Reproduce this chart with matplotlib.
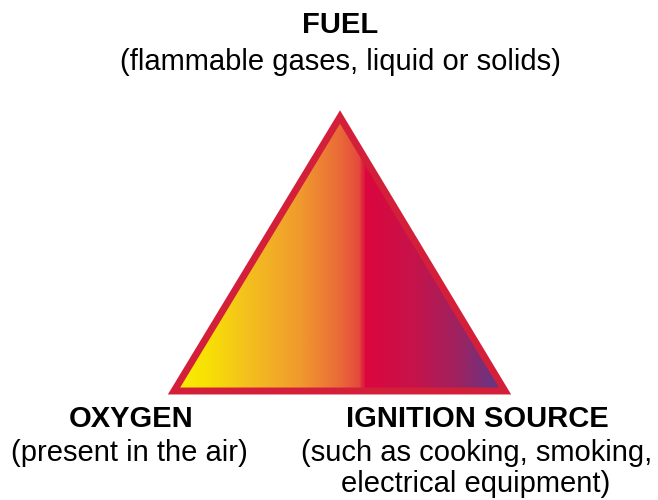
import numpy as np
import matplotlib.pyplot as plt
from matplotlib.colors import LinearSegmentedColormap
from matplotlib.patches import Polygon

# triangle corners (pixels, y down)
tri_x = [340, 505, 174]
tri_y = [117, 391, 391]

# horizontal gradient stops (fraction across triangle base) and colours
grad_pos = [0.0, 0.10, 0.22, 0.38, 0.50, 0.56, 0.58, 0.72, 0.86, 1.0]
grad_col = ['#faf000', '#f8e006', '#f4c01e', '#f09a2e', '#ea6a38', '#e44a3c',
            '#dc063e', '#c8124a', '#9e2260', '#5a3a8c']

labels = ['FUEL', 'OXYGEN', 'IGNITION SOURCE']
notes = ['(flammable gases, liquid or solids)',
         '(present in the air)',
         '(such as cooking, smoking,', 'electrical equipment)']

plt.rcParams['font.family'] = ['Liberation Sans', 'DejaVu Sans']

fig = plt.figure(figsize=(6.58, 5), dpi=100)
ax = fig.add_axes([0, 0, 1, 1])
ax.set_xlim(0, 658)
ax.set_ylim(500, 0)
ax.axis('off')

cmap = LinearSegmentedColormap.from_list('fire', list(zip(grad_pos, grad_col)))
grad = np.linspace(0, 1, 400).reshape(1, -1)
im = ax.imshow(grad, cmap=cmap, aspect='auto', interpolation='bilinear',
               extent=[min(tri_x), max(tri_x), max(tri_y), min(tri_y)])
tri = Polygon(list(zip(tri_x, tri_y)), closed=True, facecolor='none',
              edgecolor='#d41f3a', linewidth=5, joinstyle='miter')
ax.add_patch(tri)
im.set_clip_path(tri)

fs = 21
ax.text(340, 33, labels[0], ha='center', va='baseline', fontsize=fs, fontweight='bold')
ax.text(340, 70, notes[0], ha='center', va='baseline', fontsize=fs)
ax.text(131, 427, labels[1], ha='center', va='baseline', fontsize=fs, fontweight='bold')
ax.text(129, 461, notes[1], ha='center', va='baseline', fontsize=fs)
ax.text(477, 427, labels[2], ha='center', va='baseline', fontsize=fs, fontweight='bold')
ax.text(477, 461, notes[2], ha='center', va='baseline', fontsize=fs)
ax.text(476, 492, notes[3], ha='center', va='baseline', fontsize=fs)

fig.savefig('out.png', dpi=100)
